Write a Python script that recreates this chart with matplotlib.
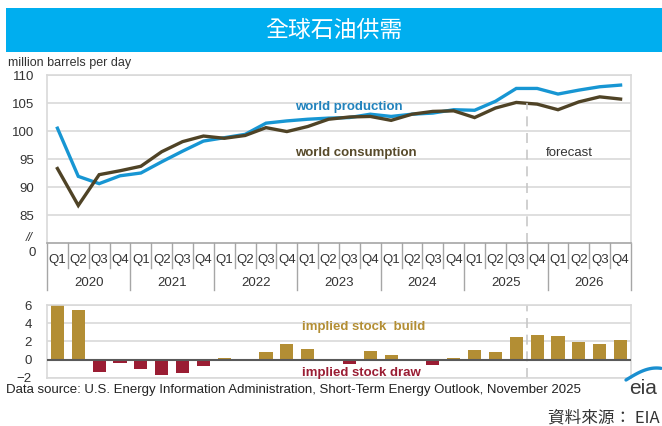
import numpy as np
import matplotlib
matplotlib.use('Agg')
import matplotlib.pyplot as plt
from matplotlib.patches import Rectangle
from matplotlib.lines import Line2D
import matplotlib.transforms as mtransforms

plt.rcParams['font.family'] = ['Liberation Sans', 'Noto Sans CJK TC', 'DejaVu Sans']

# データ (2020Q1 - 2026Q4)
quarters = ['Q1', 'Q2', 'Q3', 'Q4'] * 7
years = ['2020', '2021', '2022', '2023', '2024', '2025', '2026']
production = [100.5, 91.9, 90.6, 92.0, 92.5, 94.5, 96.4, 98.2, 98.8, 99.4,
              101.4, 101.8, 102.1, 102.3, 102.4, 103.0, 102.6, 103.0, 103.2, 103.8,
              103.7, 105.3, 107.6, 107.6, 106.6, 107.3, 107.9, 108.2]
consumption = [93.3, 86.7, 92.2, 92.9, 93.7, 96.3, 98.1, 99.1, 98.7, 99.2,
               100.6, 99.9, 100.8, 102.1, 102.5, 102.6, 101.9, 103.0, 103.5, 103.6,
               102.4, 104.1, 105.1, 104.8, 103.8, 105.2, 106.1, 105.7]
stock_change = [6.0, 5.45, -1.35, -0.35, -1.05, -1.65, -1.5, -0.7, 0.2, 0.0,
                0.85, 1.7, 1.2, 0.0, -0.45, 0.95, 0.5, 0.0, -0.6, 0.15,
                1.0, 0.8, 2.45, 2.75, 2.55, 1.95, 1.7, 2.2]
forecast_start = 22.5

BLUE = '#1796d3'
DARK = '#4f4326'
GOLD = '#b38e34'
RED = '#9a1d33'
GRID = '#d9d9d9'
SEP = '#a6a6a6'
TXT = '#333333'

W, H = 662, 426
fig = plt.figure(figsize=(W / 100, H / 100), dpi=100)

def fx(px):
    return px / W

def fy(py):
    return 1 - py / H

# タイトルバー
fig.add_artist(Rectangle((fx(6), fy(52)), fx(656), 44 / H, transform=fig.transFigure,
                         facecolor='#00aeef', edgecolor='none'))
fig.text(fx(334), fy(30), '全球石油供需', color='white', fontsize=16.5,
         family=['Noto Sans CJK TC', 'DejaVu Sans'], ha='center', va='center')
fig.text(fx(8), fy(63), 'million barrels per day', fontsize=9, color=TXT, va='center')

x = np.arange(len(quarters))

# 上段: 生産と消費
ax = fig.add_axes([fx(47), fy(243), fx(631 - 47), (243 - 75) / H])
ax.set_xlim(-0.5, len(quarters) - 0.5)
ax.set_ylim(80, 110)
ax.set_yticks([85, 90, 95, 100, 105, 110])
ax.grid(axis='y', color=GRID, linewidth=1.2)
ax.set_axisbelow(True)
ax.tick_params(axis='y', length=0, pad=9, labelsize=9.5, labelcolor=TXT)
ax.tick_params(axis='x', length=0, labelbottom=False)
for s in ['top', 'right', 'left']:
    ax.spines[s].set_color(GRID)
    ax.spines[s].set_linewidth(1.2)
ax.spines['bottom'].set_color(SEP)
ax.spines['bottom'].set_linewidth(1.2)

ax.plot(x, production, color=BLUE, linewidth=2.4, solid_joinstyle='miter')
ax.plot(x, consumption, color=DARK, linewidth=2.4, solid_joinstyle='miter')
ax.axvline(forecast_start, ymax=(105 - 80) / 30, color='#c8c8c8', linewidth=1.2,
           linestyle=(0, (6, 4)))

ax.text(11.37, 104.2, 'world production', color='#2283bd', fontsize=9.5,
        fontweight='bold', va='center')
ax.text(11.37, 96.1, 'world consumption', color='#574a2a', fontsize=9.5,
        fontweight='bold', va='center')
ax.text(23.4, 96.1, 'forecast', color=TXT, fontsize=9.5, va='center')

# 軸の省略記号
ax.text(-0.03, 0.03, '//', transform=ax.transAxes, fontsize=9, color=TXT,
        ha='center', va='center', style='italic')
ax.text(-0.019, -0.06, '0', transform=ax.transAxes, fontsize=9.5, color=TXT,
        ha='right', va='center')

# カテゴリ軸 (四半期 / 年)
trans = mtransforms.blended_transform_factory(ax.transData, ax.transAxes)
for i in range(len(quarters) + 1):
    depth = -0.28 if i % 4 == 0 else -0.15
    ax.add_line(Line2D([i - 0.5, i - 0.5], [0, depth], transform=trans,
                       color=SEP, linewidth=1, clip_on=False))
for i, q in enumerate(quarters):
    ax.text(i, -0.10, q, transform=trans, ha='center', va='center',
            fontsize=9.5, color=TXT)
for j, yr in enumerate(years):
    ax.text(4 * j + 1.5, -0.238, yr, transform=trans, ha='center', va='center',
            fontsize=9.5, color=TXT)

# 下段: 在庫増減
bx = fig.add_axes([fx(47), fy(377.7), fx(631 - 47), (377.7 - 305) / H])
bx.set_xlim(-0.5, len(quarters) - 0.5)
bx.set_ylim(-2, 6)
bx.set_yticks([-2, 0, 2, 4, 6])
bx.grid(axis='y', color=GRID, linewidth=1.2)
bx.set_axisbelow(True)
bx.tick_params(axis='y', length=0, pad=11, labelsize=9.5, labelcolor=TXT)
bx.tick_params(axis='x', length=0, labelbottom=False)
for s in bx.spines.values():
    s.set_color(GRID)
    s.set_linewidth(1.2)
colors = [GOLD if v >= 0 else RED for v in stock_change]
bx.bar(x, stock_change, width=0.63, color=colors, zorder=2)
bx.axhline(0, color='#595959', linewidth=1.5, zorder=3)
bx.axvline(forecast_start, color='#c8c8c8', linewidth=1.2, linestyle=(0, (6, 4)),
           zorder=1)
bx.text(11.75, 3.55, 'implied stock  build', color=GOLD, fontsize=9.5,
        fontweight='bold', va='center')
bx.text(11.75, -1.5, 'implied stock draw', color=RED, fontsize=9.5,
        fontweight='bold', va='center')

# 出典
fig.text(fx(6), fy(390), 'Data source: U.S. Energy Information Administration, '
         'Short-Term Energy Outlook, November 2025', fontsize=9.5, color='#222222',
         va='center')
fig.text(fx(660), fy(418), '資料來源： EIA', fontsize=12, color=TXT,
         family=['Noto Sans CJK TC', 'DejaVu Sans'], ha='right', va='center')

# eia ロゴ
fig.text(fx(643), fy(389), 'eia', fontsize=15, color='#3a3a3a', ha='center',
         va='center')
t = np.linspace(0, 1, 30)
arc_x = 626 + 35 * t
arc_y = 380 - 12 * np.sin(np.pi / 2 * t * 1.15)
fig.add_artist(Line2D(fx(arc_x), fy(arc_y), transform=fig.transFigure,
                      color='#1a8fd0', linewidth=2.4, solid_capstyle='round'))

fig.savefig('out.png', dpi=100)
